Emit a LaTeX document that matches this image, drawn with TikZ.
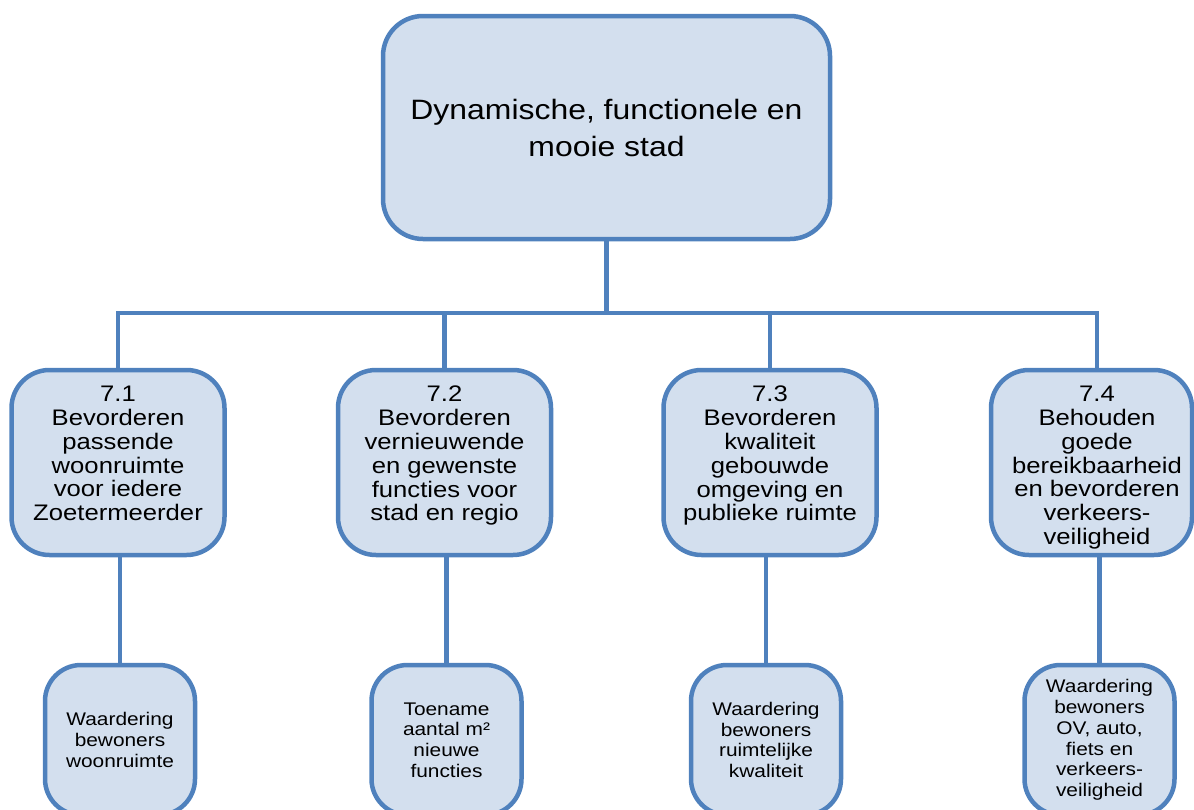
\documentclass[tikz,border=0pt]{standalone}
\usepackage{fontspec}
\setmainfont{Liberation Sans}[FakeStretch=1.14]
\definecolor{boxline}{HTML}{4F81BD}
\definecolor{boxfill}{HTML}{D3DFEE}
\begin{document}
\begin{tikzpicture}[x=1pt, y=-1pt,
	topbox/.style={draw=boxline, fill=boxfill, line width=4.5pt, rounded corners=40pt, inner sep=0pt, outer sep=0pt, align=center, minimum width=447pt, minimum height=223pt, font=\fontsize{28}{37}\selectfont},
	midbox/.style={draw=boxline, fill=boxfill, line width=4.5pt, rounded corners=38pt, outer sep=0pt, minimum height=185pt},
	midtext/.style={anchor=north, inner sep=0pt, align=center, font=\fontsize{22.5}{23.8}\selectfont},
	lowbox/.style={draw=boxline, fill=boxfill, line width=4.5pt, rounded corners=36pt, inner sep=0pt, outer sep=0pt, align=center, minimum width=150pt, minimum height=150pt, font=\fontsize{18.3}{20.8}\selectfont},
	conn/.style={draw=boxline, line width=4.5pt}]
	\useasboundingbox (0,0) rectangle (1194,809);
	\clip (0,0) rectangle (1194,809);

	% Top goal
	\node[topbox] (top) at (606.5,127.5) {Dynamische, functionele en\\mooie stad};

	% Sub goals
	\node[midbox, minimum width=213pt] (m1) at (118,462.5) {};
	\node[midbox, minimum width=213pt] (m2) at (444.5,462.5) {};
	\node[midbox, minimum width=213pt] (m3) at (770,462.5) {};
	\node[midbox, minimum width=201pt] (m4) at (1091.5,462.5) {};

	\node[midtext] (t1) at ([yshift=-16pt]m1.north) {7.1\\Bevorderen\\passende\\woonruimte\\voor iedere\\Zoetermeerder};
	\node[midtext] (t2) at ([yshift=-16pt]m2.north) {7.2\\Bevorderen\\vernieuwende\\en gewenste\\functies voor\\stad en regio};
	\node[midtext] (t3) at ([yshift=-16pt]m3.north) {7.3\\Bevorderen\\kwaliteit\\gebouwde\\omgeving en\\publieke ruimte};
	\node[midtext] (t4) at ([xshift=5.5pt, yshift=-16pt]m4.north) {7.4\\Behouden\\goede\\bereikbaarheid\\en bevorderen\\verkeers-\\veiligheid};

	% Indicators
	\node[lowbox] (b1) at (120,740) {Waardering\\bewoners\\woonruimte};
	\node[lowbox] (b2) at (446.5,740) {Toename\\aantal m²\\nieuwe\\functies};
	\node[lowbox] (b3) at (766,740) {Waardering\\bewoners\\ruimtelijke\\kwaliteit};
	\node[lowbox] (b4) at (1099.5,740) {Waardering\\bewoners\\OV, auto,\\fiets en\\verkeers-\\veiligheid};

	% Connectors
	\coordinate (busR) at (1097,313);
	\draw[conn] (m1.north) |- (busR) -- (busR |- m4.north);
	\draw[conn] (top.south) -- (top.south |- busR);
	\draw[conn] (m2.north) -- (m2.north |- busR);
	\draw[conn] (m3.north) -- (m3.north |- busR);
	\foreach \i in {1,...,4}
		\draw[conn] (b\i.north) -- (b\i.north |- m\i.south);
\end{tikzpicture}
\end{document}
